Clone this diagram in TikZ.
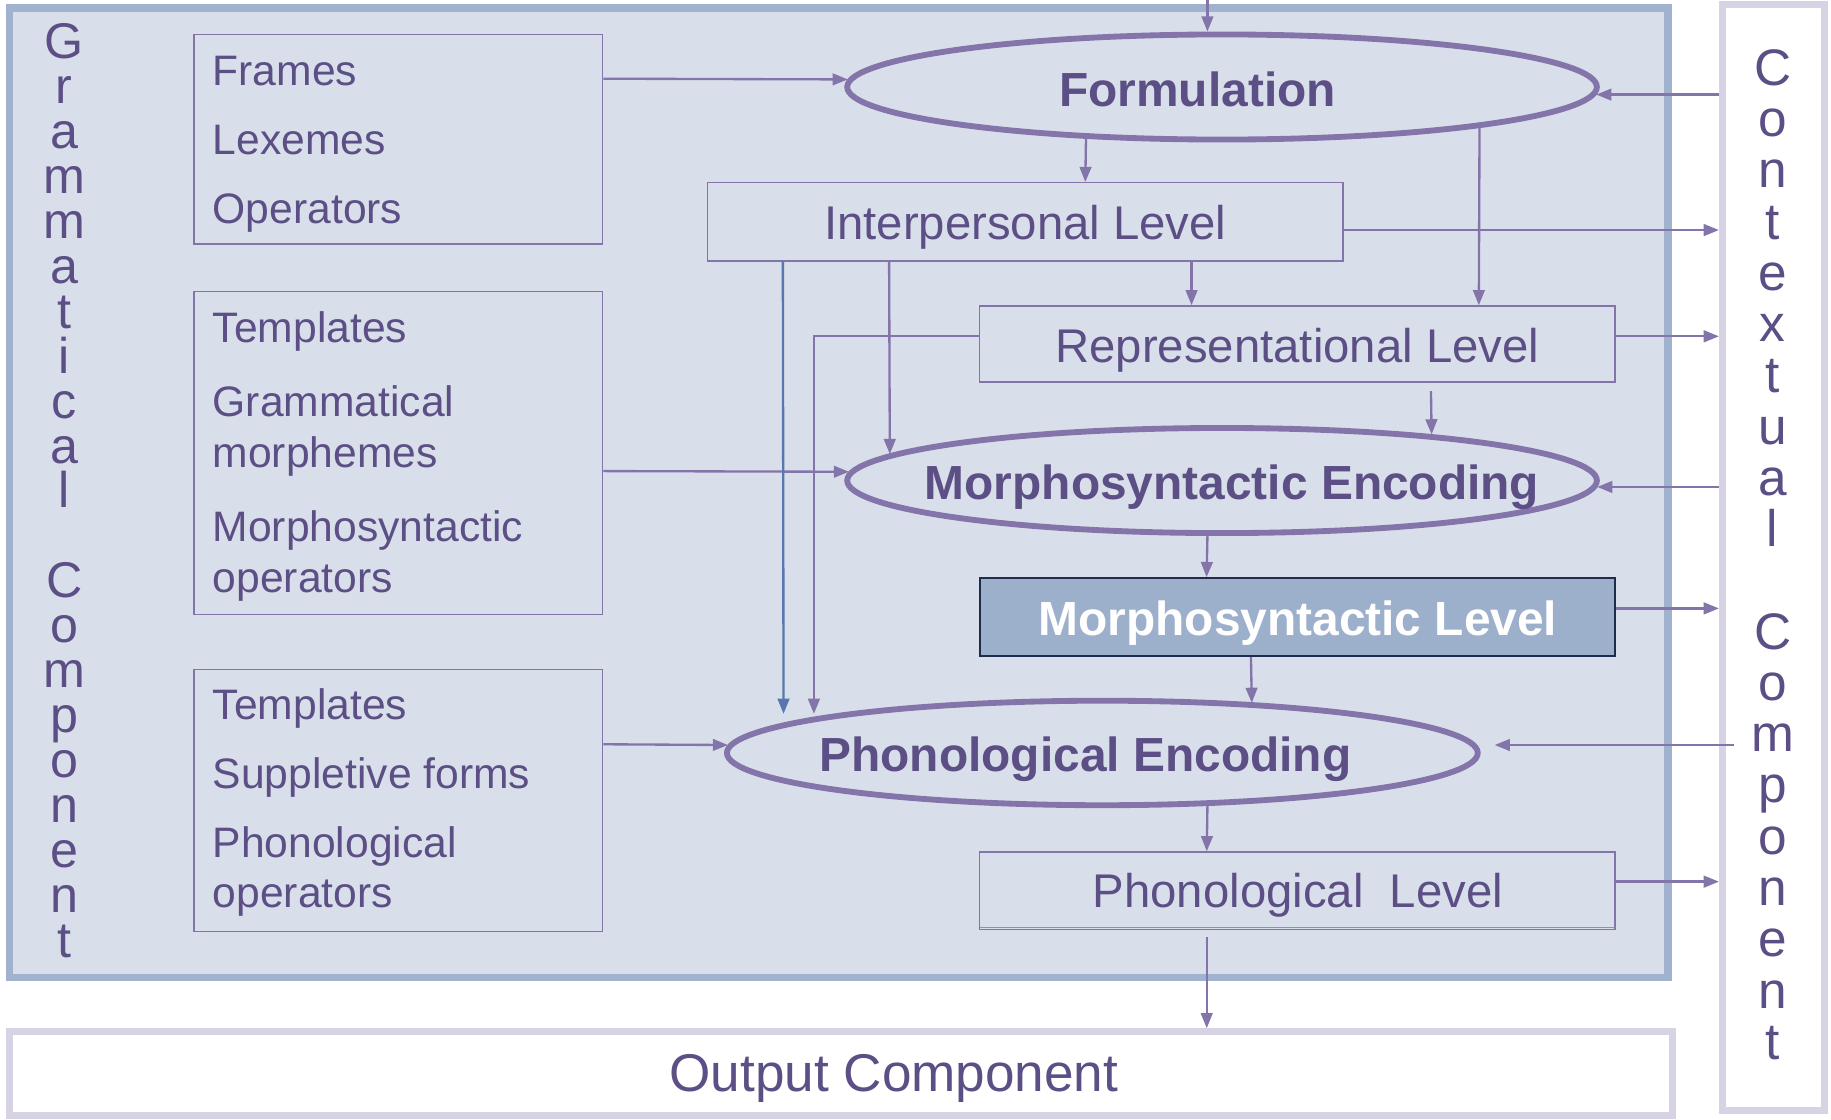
\documentclass[tikz,border=0pt]{standalone}
\usepackage{fontspec}
\setmainfont{Liberation Sans}
\usepackage{graphicx}
\usetikzlibrary{shapes.geometric,arrows.meta,calc}
\definecolor{txt}{RGB}{92,79,133}
\definecolor{linec}{RGB}{131,116,169}
\definecolor{frameb}{RGB}{160,178,206}
\definecolor{framef}{RGB}{217,223,234}
\definecolor{ctxb}{RGB}{215,211,229}
\definecolor{mlevf}{RGB}{157,176,203}
\definecolor{mlevb}{RGB}{31,43,77}
\definecolor{bluearr}{RGB}{87,119,174}
\definecolor{orangel}{RGB}{216,128,63}
\begin{document}
\begin{tikzpicture}[x=1pt,y=-1pt,
  gframe/.style={draw=frameb, fill=framef, line width=6.5pt, inner sep=0pt},
  cframe/.style={draw=ctxb, fill=white, line width=6pt, inner sep=0pt},
  srcbox/.style={draw=linec, line width=1.2pt, inner sep=0pt},
  lvl/.style={draw=linec, line width=1.2pt, inner sep=0pt},
  mlvl/.style={draw=mlevb, fill=mlevf, line width=1.5pt, inner sep=0pt},
  ell/.style={ellipse, draw=linec, line width=5pt, fill=framef, inner sep=0pt},
  lt/.style={text=txt, inner sep=0pt, font=\fontsize{36.5}{40}\selectfont},
  lvtxt/.style={text=txt, inner sep=0pt, font=\fontsize{40.5}{44}\selectfont},
  enctxt/.style={text=txt, inner sep=0pt, font=\fontsize{41}{44}\selectfont\bfseries},
  vg/.style={text=txt, inner sep=0pt, font=\fontsize{43}{48}\selectfont},
  vc/.style={text=txt, inner sep=0pt, font=\fontsize{44}{48}\selectfont},
  arr/.style={draw=linec, line width=2pt, -{Triangle[length=13pt,width=10pt]}},
  barr/.style={draw=bluearr, line width=2pt, -{Triangle[length=13pt,width=10pt]}}
]
\useasboundingbox (0,0) rectangle (1568,959);

% frames
\node[gframe, minimum width=1420.5pt, minimum height=830pt] (gram) at (718.25,422) {};
\node[cframe, minimum width=87pt, minimum height=947.5pt] (ctx) at (1518.5,477.25) {};
\node[cframe, minimum width=1424pt, minimum height=71.5pt] (out) at (720,919.25) {};
\node[text=txt, inner sep=0pt, font=\fontsize{45.5}{48}\selectfont, anchor=base] (outt) at (765.5,934.5) {Output Component};

% vertical labels
\foreach \ch [count=\i from 0] in {G,r,a,m,m,a,t,i,c,a,l}
  \node[vg, anchor=base] (ga\i) at (55,{50+38.5*\i}) {\ch};
\foreach \ch [count=\i from 12] in {C,o,m,p,o,n,e,n,t}
  \node[vg, anchor=base] (gb\i) at (55,{50+38.5*\i}) {\ch};
\foreach \ch [count=\i from 0] in {C,o,n,t,e,x,t,u,a,l}
  \node[vc, anchor=base] (ca\i) at (1518,{73+43.9*\i}) {\ch};
\foreach \ch [count=\i from 11] in {C,o,m,p,o,n,e,n,t}
  \node[vc, anchor=base] (cb\i) at (1518,{73+43.9*\i}) {\ch};

% source boxes
\node[srcbox, minimum width=350pt, minimum height=179.6pt] (b1) at (341,119.2) {};
\node[lt, anchor=base west] (b1a) at (182,73.6) {Frames};
\node[lt, anchor=base west] (b1b) at (182,132.5) {Lexemes};
\node[lt, anchor=base west] (b1c) at (182,191) {Operators};

\node[srcbox, minimum width=350pt, minimum height=276.4pt] (b2) at (341,387.8) {};
\node[lt, anchor=base west] (b2a) at (182,293.5) {Templates};
\node[lt, anchor=base west] (b2b) at (182,356.7) {Grammatical};
\node[lt, anchor=base west] (b2c) at (182,400.7) {morphemes};
\node[lt, anchor=base west] (b2d) at (182,463.7) {Morphosyntactic};
\node[lt, anchor=base west] (b2e) at (182,507.7) {operators};

\node[srcbox, minimum width=350pt, minimum height=224.3pt] (b3) at (341,685.7) {};
\node[lt, anchor=base west] (b3a) at (182,616) {Templates};
\node[lt, anchor=base west] (b3b) at (182,675) {Suppletive forms};
\node[lt, anchor=base west] (b3c) at (182,734.5) {Phonological};
\node[lt, anchor=base west] (b3d) at (182,777) {operators};

% ellipses
\node[ell, minimum width=642pt, minimum height=90pt] (form) at (1046.5,74.5) {};
\node[enctxt, anchor=base] (formt) at (1025.5,90.8) {Formulation};
\node[ell, minimum width=642pt, minimum height=90pt] (menc) at (1046.5,411.5) {};
\node[enctxt, anchor=base] (menct) at (1055,428) {Morphosyntactic Encoding};
\node[ell, minimum width=643pt, minimum height=89.5pt] (penc) at (944,644.8) {};
\node[enctxt, anchor=base] (penct) at (929.5,661) {Phonological Encoding};

% level boxes
\node[lvl, minimum width=544pt, minimum height=67pt] (ip) at (878,190) {};
\node[lvtxt, anchor=base] (ipt) at (878,205) {Interpersonal Level};
\node[lvl, minimum width=544pt, minimum height=65.3pt] (rep) at (1111,294.6) {};
\node[lvtxt, anchor=base] (rept) at (1111,310.6) {Representational Level};
\node[mlvl, minimum width=544pt, minimum height=67pt] (mlev) at (1111,528.5) {};
\node[enctxt, text=white, anchor=base] (mlevt) at (1111.5,544) {Morphosyntactic Level};
\node[lvl, minimum width=544pt, minimum height=66.4pt] (plev) at (1111,762.8) {};
\draw[orangel, line width=1.2pt] ($(plev.south west)+(0.6,-2.2)$) -- ($(plev.south east)+(-0.6,-2.2)$);
\node[lvtxt, anchor=base] (plevt) at (1111.5,777) {Phonological~~Level};

% connectors
\coordinate (topin) at (1034,0);
\draw[arr] (topin) -- ($(form.center)+(-12.5,-47.5)$);
\draw[arr] ($(b1.north east)+(0,38.6)$) -- ($(form.center)+(-320.5,-6.5)$);
\draw[arr] ($(b2.north east)+(0,154.4)$) -- ($(menc.center)+(-319.5,-7.5)$);
\draw[arr] ($(b3.north east)+(0,64.4)$) -- ($(penc.center)+(-320.6,-6.8)$);
\draw[arr] ($(form.center)+(-116.5,44.3)$) -- ($(ip.north west)+(324,0)$);
\draw[arr] ($(form.center)+(220.5,34.8)$) -- ($(rep.north west)+(428,0)$);
\draw[arr] ($(ip.east)+(0,7)$) coordinate (c7) -- (c7 -| ctx.west);
\draw[arr] ($(ip.south west)+(415,0)$) -- ($(rep.north west)+(182,0)$);
\draw[arr] ($(ip.south west)+(156,0)$) -- ($(menc.center)+(-284.5,-22.6)$);
\draw[barr] ($(ip.south west)+(65,0)$) -- ($(penc.center)+(-273,-33.5)$);
\draw[arr] ($(rep.west)+(0,-6.6)$) -| ($(penc.center)+(-247,-33.5)$);
\draw[arr] ($(rep.south west)+(387,7)$) -- ($(menc.center)+(179.5,-39.5)$);
\draw[arr] ($(rep.east)+(0,-6.6)$) coordinate (c13) -- (c13 -| ctx.west);
\draw[arr] ($(ctx.west)+(0,-396.25)$) -- ($(form.center)+(320.5,6.5)$);
\draw[arr] ($(ctx.west)+(0,-60.25)$) -- ($(menc.center)+(321.3,5.5)$);
\draw[arr] ($(menc.center)+(-12.5,47.5)$) -- ($(mlev.north west)+(195,0)$);
\draw[arr] ($(mlev.east)+(0,-7.5)$) coordinate (c17) -- (c17 -| ctx.west);
\draw[arr] ($(mlev.south west)+(233,0)$) -- ($(penc.center)+(128,-42.9)$);
\draw[arr] ($(ctx.west)+(13,160.75)$) -- ($(penc.center)+(336,-6.8)$);
\draw[arr] ($(penc.center)+(90,44.9)$) -- ($(plev.north west)+(195,0)$);
\draw[arr] ($(plev.east)+(0,-7.8)$) coordinate (c21) -- (c21 -| ctx.west);
\draw[arr] ($(plev.south west)+(195,6)$) coordinate (c22) -- (c22 |- out.north);
\end{tikzpicture}
\end{document}
